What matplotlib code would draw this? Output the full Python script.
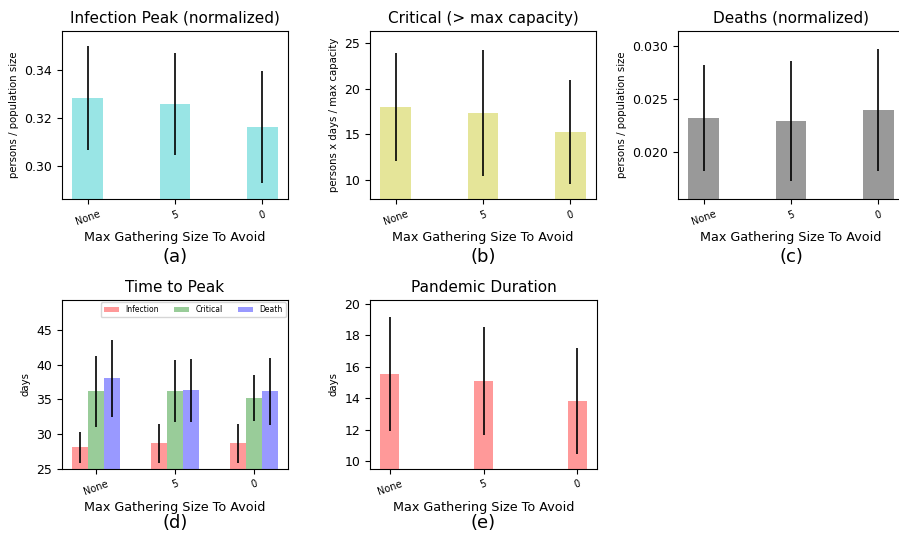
import numpy as np
import matplotlib
matplotlib.use("Agg")
import matplotlib.pyplot as plt

# scenarios on the x axis
gathering = ["None", "5", "0"]

# infection peak, normalized by population
peak_mean = [0.3285, 0.3260, 0.3164]
peak_std = [0.0216, 0.0212, 0.0232]

# critical person-days above capacity
crit_mean = [18.0, 17.34, 15.27]
crit_std = [5.9, 6.87, 5.65]

# deaths, normalized by population
death_mean = [0.02324, 0.02295, 0.0240]
death_std = [0.0050, 0.0057, 0.00576]

# time to peak in days
ttp_infection = [28.1, 28.7, 28.7]
ttp_infection_std = [2.25, 2.8, 2.8]
ttp_critical = [36.2, 36.17, 35.17]
ttp_critical_std = [5.1, 4.48, 3.33]
ttp_death = [38.05, 36.32, 36.17]
ttp_death_std = [5.56, 4.5, 4.8]

# pandemic duration in days
dur_mean = [15.53, 15.1, 13.82]
dur_std = [3.64, 3.45, 3.35]

W, H = 899, 533
fig = plt.figure(figsize=(W / 100, H / 100), dpi=100)


def make_ax(left, top, right, bottom):
    return fig.add_axes([left / W, 1 - bottom / H, (right - left) / W, (bottom - top) / H])


def finish(ax, title, ylabel, letter, ylim, letter_y=-0.34):
    ax.set_title(title, fontsize=11)
    ax.set_ylabel(ylabel, fontsize=7.3)
    ax.set_ylim(*ylim)
    ax.set_xticks(range(len(gathering)))
    ax.set_xticklabels(gathering, rotation=20, fontsize=7)
    ax.tick_params(axis="y", labelsize=9)
    ax.set_xlabel("Max Gathering Size To Avoid", fontsize=9.2, labelpad=3)
    ax.text(0.5, letter_y, letter, transform=ax.transAxes, ha="center", va="center",
            fontsize=13)


def single(ax, mean, std, color, width):
    x = np.arange(len(mean))
    ax.bar(x, mean, width, yerr=std, color=color, alpha=0.4,
           error_kw=dict(ecolor="black", elinewidth=1.2, capsize=0))


ax_a = make_ax(62, 31, 288, 199.3)
single(ax_a, peak_mean, peak_std, "c", 0.35)
finish(ax_a, "Infection Peak (normalized)", "persons / population size", "(a)",
       (0.2862, 0.3564))
ax_a.set_yticks([0.30, 0.32, 0.34])

ax_b = make_ax(370, 31, 596, 199.3)
single(ax_b, crit_mean, crit_std, "y", 0.35)
finish(ax_b, "Critical (> max capacity)", "persons x days / max capacity", "(b)",
       (7.93, 26.27))
ax_b.set_yticks([10, 15, 20, 25])

ax_c = make_ax(678, 31, 904, 199.3)
single(ax_c, death_mean, death_std, "k", 0.35)
finish(ax_c, "Deaths (normalized)", "persons / population size", "(c)",
       (0.01557, 0.03145))
ax_c.set_yticks([0.020, 0.025, 0.030])

ax_d = make_ax(62, 300, 288, 469)
x = np.arange(len(gathering))
ekw = dict(ecolor="black", elinewidth=1.2, capsize=0)
ax_d.bar(x - 0.2, ttp_infection, 0.2, yerr=ttp_infection_std, color="r",
         alpha=0.4, label="Infection", error_kw=ekw)
ax_d.bar(x, ttp_critical, 0.2, yerr=ttp_critical_std, color="g",
         alpha=0.4, label="Critical", error_kw=ekw)
ax_d.bar(x + 0.2, ttp_death, 0.2, yerr=ttp_death_std, color="b",
         alpha=0.4, label="Death", error_kw=ekw)
finish(ax_d, "Time to Peak", "days", "(d)", (25, 49.3), letter_y=-0.32)
ax_d.set_yticks([25, 30, 35, 40, 45])
ax_d.legend(loc="upper right", ncol=3, fontsize=5.5, borderaxespad=0.3)

ax_e = make_ax(370, 300, 597, 469)
single(ax_e, dur_mean, dur_std, "r", 0.2)
finish(ax_e, "Pandemic Duration", "days", "(e)", (9.49, 20.26), letter_y=-0.32)
ax_e.set_yticks([10, 12, 14, 16, 18, 20])

fig.savefig("out.png", dpi=100)
